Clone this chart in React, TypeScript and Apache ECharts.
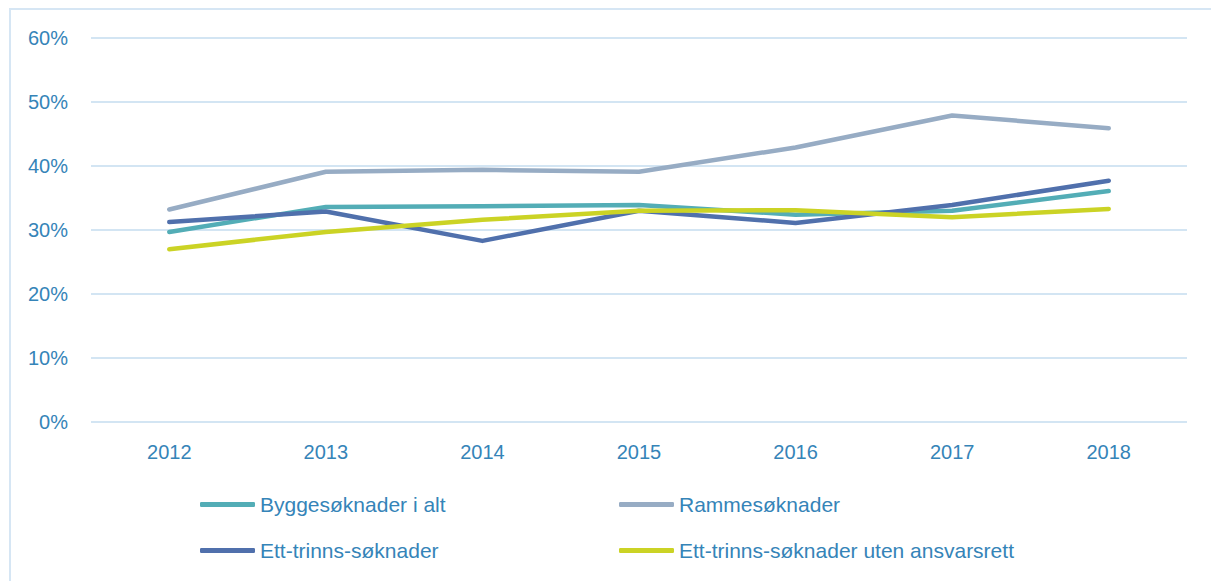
import React, { useEffect, useRef } from "react";
import * as echarts from "echarts";

const years = ["2012", "2013", "2014", "2015", "2016", "2017", "2018"];
const byggesoknader = [29.7, 33.6, 33.7, 33.9, 32.4, 33.0, 36.1];
const rammesoknader = [33.2, 39.1, 39.4, 39.1, 42.9, 47.9, 45.9];
const ettTrinns = [31.25, 32.9, 28.3, 33.0, 31.1, 33.9, 37.7];
const ettTrinnsUten = [27.0, 29.7, 31.6, 33.0, 33.1, 32.0, 33.3];
const seriesNames = [
  "Byggesøknader i alt",
  "Rammesøknader",
  "Ett-trinns-søknader",
  "Ett-trinns-søknader uten ansvarsrett",
];
const yTicks = [0, 10, 20, 30, 40, 50, 60];

const colors = ["#53adb6", "#97acc4", "#5070ac", "#cbd325"];
const textColor = "#3584b8";
const font = "'Liberation Sans', Arial, sans-serif";

export default function App() {
  const ref = useRef<HTMLDivElement>(null);
  useEffect(() => {
    document.body.style.margin = "0";
    if (!ref.current) return;
    const chart = echarts.init(ref.current, null, { renderer: "svg" });
    const data = [byggesoknader, rammesoknader, ettTrinns, ettTrinnsUten];
    const legendPos = [
      { left: 200, top: 494 },
      { left: 619, top: 494 },
      { left: 200, top: 540 },
      { left: 619, top: 540 },
    ];
    chart.setOption({
      animation: false,
      color: colors,
      graphic: [
        {
          type: "rect",
          shape: { x: 10, y: 9, width: 1400, height: 800 },
          style: { fill: "none", stroke: "#d6e6f4", lineWidth: 2 },
          silent: true,
        },
      ],
      grid: { left: 91, right: 24, top: 38, bottom: 159, containLabel: false },
      xAxis: {
        type: "category",
        data: years,
        boundaryGap: true,
        axisLine: { show: false },
        axisTick: { show: false },
        axisLabel: {
          color: textColor,
          fontFamily: font,
          fontSize: 20,
          margin: 20,
        },
      },
      yAxis: {
        type: "value",
        min: yTicks[0],
        max: yTicks[yTicks.length - 1],
        interval: 10,
        axisLine: { show: false },
        axisTick: { show: false },
        splitLine: { lineStyle: { color: "#d3e5f3", width: 2 } },
        axisLabel: {
          color: textColor,
          fontFamily: font,
          fontSize: 20,
          margin: 23,
          formatter: (v: number) => `${v}%`,
        },
      },
      legend: seriesNames.map((name, i) => ({
        data: [name],
        left: legendPos[i].left,
        top: legendPos[i].top,
        padding: 0,
        itemWidth: 55,
        itemHeight: 5,
        icon: "roundRect",
        selectedMode: false,
        textStyle: { color: textColor, fontFamily: font, fontSize: 21 },
      })),
      series: seriesNames.map((name, i) => ({
        name,
        type: "line",
        data: data[i],
        symbol: "none",
        lineStyle: { width: 4.5, color: colors[i], cap: "round", join: "round" },
        itemStyle: { color: colors[i] },
      })),
    });
    return () => chart.dispose();
  }, []);
  return <div ref={ref} style={{ width: 1211, height: 581 }} />;
}
